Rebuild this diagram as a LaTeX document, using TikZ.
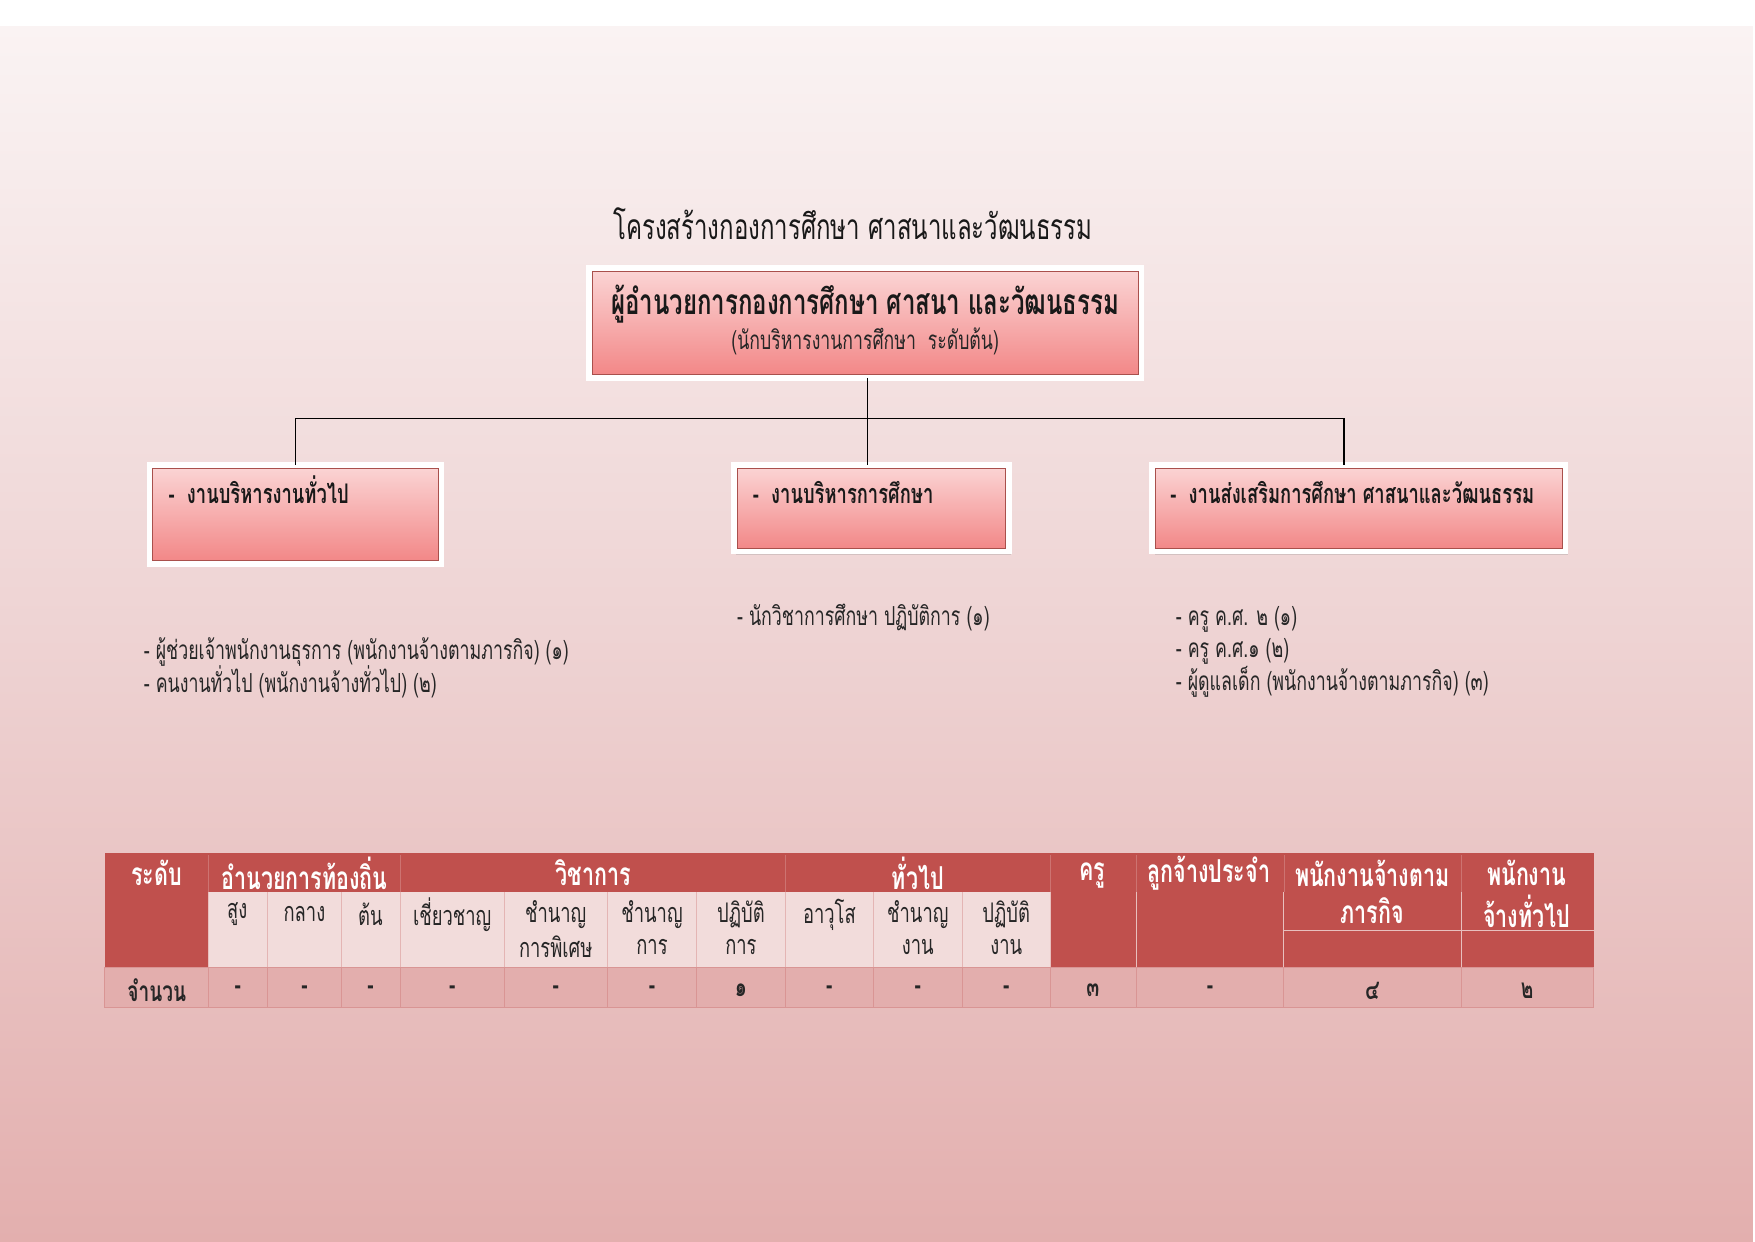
\documentclass[tikz,border=0pt]{standalone}
\usepackage{fontspec}
\setmainfont{Loma}[Script=Thai, FakeStretch=0.68]
\usepackage{tikz}
\usetikzlibrary{positioning, shadows}

\definecolor{pagetop}{HTML}{FAF3F3}
\definecolor{pagemid}{HTML}{EED3D3}
\definecolor{pagebot}{HTML}{E3AFAE}
\definecolor{boxtop}{HTML}{FBD6D6}
\definecolor{boxbot}{HTML}{F28585}
\definecolor{boxedge}{HTML}{A9504C}
\definecolor{headred}{HTML}{C0504D}
\definecolor{subpink}{HTML}{F2DCDB}
\definecolor{countpink}{HTML}{E3AEAD}
\definecolor{gridpink}{HTML}{D99594}

\begin{document}
\begin{tikzpicture}[x=0.1894mm, y=-0.1894mm,
  box node/.style={rectangle, draw=white, line width=1mm, outer sep=0pt,
    top color=boxtop, bottom color=boxbot,
    drop shadow={opacity=0.25, shadow xshift=0.4mm, shadow yshift=-0.6mm}},
  box edge/.style={draw=boxedge, line width=0.4pt},
  link/.style={draw=black, line width=0.6pt},
  title node/.style={font=\fontsize{17}{20}\selectfont, text=black!90},
  chief text/.style={font=\fontsize{17}{20}\selectfont\bfseries, text=black!90},
  chief sub/.style={font=\fontsize{12.5}{15}\selectfont, text=black!85},
  unit text/.style={font=\fontsize{13}{16}\selectfont\bfseries, text=black!90,
    text height=0.75em, text depth=0.25em, anchor=west},
  staff text/.style={font=\fontsize{12.6}{16}\selectfont, text=black!85,
    text height=0.75em, text depth=0.25em, anchor=west},
  head text/.style={font=\fontsize{15.2}{18}\selectfont\bfseries, text=white},
  sub text/.style={font=\fontsize{13}{16}\selectfont, text=black!85},
  count text/.style={font=\fontsize{13.5}{16}\selectfont\bfseries, text=black!85}]

\useasboundingbox (0,0) rectangle (1568,1109);
\fill[white] (0,0) rectangle (1568,1109);
\shade[top color=pagetop, bottom color=pagebot, middle color=pagemid] (0,24) rectangle (1566,1109);

% title
\node[title node] (title) at (762,200) {โครงสร้างกองการศึกษา ศาสนาและวัฒนธรรม};

% boxes
\node[box node, minimum width=93.4mm, minimum height=18.6mm] (chief) at (773,288.5) {};
\node[box node, minimum width=49.4mm, minimum height=16.7mm] (admin) at (264,459.5) {};
\node[box node, minimum width=46.6mm, minimum height=14.6mm] (edu) at (778.5,454) {};
\node[box node, minimum width=69.9mm, minimum height=14.6mm] (promo) at (1214,454) {};
\foreach \b in {chief, admin, edu, promo}
  \draw[box edge] ([shift={(0.55mm,-0.55mm)}]\b.north west) rectangle ([shift={(-0.55mm,0.55mm)}]\b.south east);

\node[chief text] (chief name) at (773,272) {ผู้อำนวยการกองการศึกษา ศาสนา และวัฒนธรรม};
\node[chief sub] (chief rank) at (773,305) {(นักบริหารงานการศึกษา\ \ ระดับต้น)};
\node[unit text] (admin name) at (144,445) {-\ \ งานบริหารงานทั่วไป};
\node[unit text] (edu name) at (666,445) {-\ \ งานบริหารการศึกษา};
\node[unit text] (promo name) at (1039,445) {-\ \ งานส่งเสริมการศึกษา ศาสนาและวัฒนธรรม};

% connectors
\coordinate (bus) at (775,374);
\draw[link] (chief.south -| bus) -- (bus);
\draw[link] (bus) -| (admin.north);
\draw[link] (bus) -- (bus |- edu.north);
\draw[link] (bus) -| ([xshift=-2.5mm]promo.north);

% staff
\node[staff text] (admin staff a) at (122,585) {- ผู้ช่วยเจ้าพนักงานธุรการ (พนักงานจ้างตามภารกิจ) (๑)};
\node[staff text] (admin staff b) at (122,614) {- คนงานทั่วไป (พนักงานจ้างทั่วไป) (๒)};
\node[staff text] (edu staff) at (652,554) {- นักวิชาการศึกษา ปฏิบัติการ (๑)};
\node[staff text] (promo staff a) at (1044,554) {- ครู ค.ศ. ๒ (๑)};
\node[staff text] (promo staff b) at (1044,583) {- ครู ค.ศ.๑ (๒)};
\node[staff text] (promo staff c) at (1044,612) {- ผู้ดูแลเด็ก (พนักงานจ้างตามภารกิจ) (๓)};

% table
\fill[headred] (93.5,762) rectangle (1424,797);
\fill[headred] (93.5,797) rectangle (186,864);
\fill[subpink] (186,797) rectangle (938.5,864);
\fill[headred] (938.5,797) rectangle (1424,864);
\fill[countpink] (93.5,864) rectangle (1424,900);
\foreach \x in {186,358,702,938.5,1015,1147,1305.5}
  \draw[headred!80!white, line width=0.3pt] (\x,764) -- (\x,797);
\foreach \x in {239,305,357.5,450.5,543,622,702,780,860}
  \draw[gridpink!70!white, line width=0.4pt] (\x,797) -- (\x,864);
\foreach \x in {186,938.5,1015,1147,1305.5}
  \draw[subpink!80!headred, line width=0.4pt] (\x,797) -- (\x,864);
\draw[subpink!80!headred, line width=0.4pt] (1147,831) -- (1424,831);
\foreach \x in {186,239,305,357.5,450.5,543,622,702,780,860,938.5,1015,1147,1305.5}
  \draw[gridpink, line width=0.4pt] (\x,864) -- (\x,900);
\draw[gridpink, line width=0.4pt] (93.5,864) rectangle (1424,900);

\node[head text] (level) at (140,780) {ระดับ};
\node[head text] (local) at (272,780) {อำนวยการท้องถิ่น};
\node[head text] (academic) at (530,780) {วิชาการ};
\node[head text] (general) at (820,780) {ทั่วไป};
\node[head text] (teacher) at (976,782) {ครู};
\node[head text] (regular) at (1080,780) {ลูกจ้างประจำ};
\node[head text] (mission a) at (1226,780) {พนักงานจ้างตาม};
\node[head text] (mission b) at (1226,814) {ภารกิจ};
\node[head text] (casual a) at (1364,780) {พนักงาน};
\node[head text] (casual b) at (1364,814) {จ้างทั่วไป};

\foreach \x/\t [count=\i] in {212/สูง, 272/กลาง, 331/ต้น, 404/เชี่ยวชาญ, 741/อาวุโส}
  \node[sub text] (rank-\i) at (\x,817) {\t};
\foreach \x/\t/\u [count=\i] in {496.5/ชำนาญ/การพิเศษ, 582.5/ชำนาญ/การ, 662/ปฏิบัติ/การ, 820/ชำนาญ/งาน, 899/ปฏิบัติ/งาน} {
  \node[sub text] (grade-\i) at (\x,817) {\t};
  \node[sub text] (grade-\i-b) at (\x,846) {\u};
}

\node[count text] (count label) at (140,885) {จำนวน};
\foreach \x/\v [count=\i] in {212.5/-, 272/-, 331/-, 404/-, 496.5/-, 582.5/-, 662/๑, 741/-, 820/-, 899/-, 976.5/๓, 1081/-, 1226/๔, 1364.5/๒}
  \node[count text] (count-\i) at (\x,885) {\v};

\end{tikzpicture}
\end{document}
